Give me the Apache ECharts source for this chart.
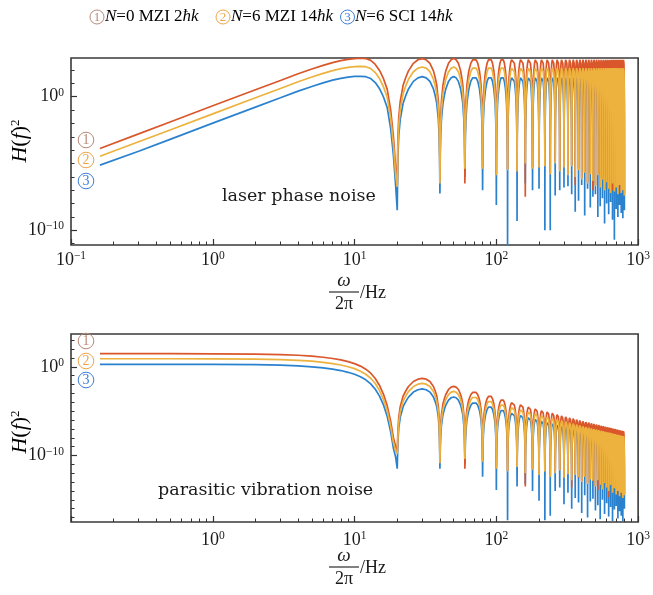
<!DOCTYPE html>
<html><head><meta charset="utf-8">
<script src="https://cdn.jsdelivr.net/npm/echarts@6/dist/echarts.min.js"></script>
<style>html,body{margin:0;padding:0;background:#fff}#c{width:653px;height:595px}</style>
</head><body><div id="c"></div>
<script>
// ---------------- data ----------------
// frequencies (Hz) of the smooth part below the first null
const freqLow = [0.16, 0.3, 0.5, 1, 2, 3, 4, 5, 6, 7, 8, 9, 10, 11, 12, 13, 14, 15, 16, 17, 18, 18.8, 19.5];
// null frequencies (Hz)
const nullFreq = [20,40,60,80,100,120,140,160,180,200,220,240,260,280,300,320,340,360,380,400,
                  420,440,460,480,500,520,540,560,580,600,620,640,660,680,700,720,740,760,780,800];
// lobe profile: position inside a lobe (fraction) and level relative to the lobe peak
const lobePos   = [0.01, 0.025, 0.05, 0.1, 0.15, 0.2, 0.3, 0.4, 0.5, 0.6, 0.7, 0.8, 0.85, 0.9, 0.95, 0.975, 0.99];
const lobeLevel = [1.0e-6, 4.0e-5, 6.3e-4, 1.0e-2, 4.0e-2, 1.2e-1, 4.4e-1, 8.1e-1, 1, 8.1e-1, 4.4e-1, 1.2e-1, 4.0e-2, 1.0e-2, 6.3e-4, 4.0e-5, 1.0e-6];

// ---- laser phase noise (top) ----
const topLowRed    = [1.35e-4, 1.66e-3, 1.29e-2, 2.09e-1, 3.31, 16.6, 52.5, 120, 224, 355, 501, 631, 724, 759, 724, 525, 263, 93.3, 22.4, 3.55, 8.91e-2, 1.0e-3, 5.0e-6];
const topLowOrange = [3.55e-5, 4.27e-4, 3.24e-3, 5.25e-2, 0.832, 4.17, 13.2, 30.2, 56.2, 89.1, 126, 158, 178, 186, 178, 129, 64.6, 22.9, 5.5, 0.871, 2.19e-2, 2.51e-4, 1.26e-6];
const topLowBlue   = [7.59e-6, 8.32e-5, 6.46e-4, 1.05e-2, 0.166, 0.832, 2.63, 5.89, 11.0, 17.4, 24.0, 29.5, 33.1, 33.9, 31.6, 22.9, 11.5, 3.98, 0.955, 0.151, 3.8e-3, 3.98e-5, 2.0e-7];
const topPeakRed    = [7.2e2,7.2e2,7.2e2,7.2e2,7.2e2,7.2e2,7.2e2,7.2e2,7.2e2,7.2e2,7.2e2,7.2e2,7.2e2,7.2e2,7.2e2,7.2e2,7.2e2,7.2e2,7.2e2,7.2e2,
                       7.2e2,7.2e2,7.2e2,7.2e2,7.2e2,7.2e2,7.2e2,7.2e2,7.2e2,7.2e2,7.2e2,7.2e2,7.2e2,7.2e2,7.2e2,7.2e2,7.2e2,7.2e2,7.2e2];
const topPeakOrange = [1.7e2,1.7e2,1.7e2,1.7e2,1.7e2,1.7e2,1.7e2,1.7e2,1.7e2,1.7e2,1.7e2,1.7e2,1.7e2,1.7e2,1.7e2,1.7e2,1.7e2,1.7e2,1.7e2,1.7e2,
                       1.7e2,1.7e2,1.7e2,1.7e2,1.7e2,1.7e2,1.7e2,1.7e2,1.7e2,1.7e2,1.7e2,1.7e2,1.7e2,1.7e2,1.7e2,1.7e2,1.7e2,1.7e2,1.7e2];
const topPeakBlue   = [3.2e1,3.2e1,3.2e1,3.2e1,3.2e1,3.2e1,3.2e1,3.2e1,3.2e1,3.2e1,3.2e1,3.2e1,3.2e1,3.2e1,3.2e1,3.2e1,3.2e1,3.2e1,3.2e1,3.2e1,
                       3.2e1,3.2e1,3.2e1,3.2e1,3.2e1,3.2e1,3.2e1,3.2e1,3.2e1,3.2e1,3.2e1,3.2e1,3.2e1,3.2e1,3.2e1,3.2e1,3.2e1,3.2e1,3.2e1];
const topDipRed    = [2.5e-7,5.0e-7,3.2e-7,5.0e-6,1.6e-6,4.0e-6,3.2e-6,3.2e-8,5.0e-6,6.3e-6,7.9e-6,2.0e-6,1.3e-5,3.2e-6,6.3e-6,1.6e-6,7.9e-6,2.5e-7,4.0e-6,7.9e-7,
                      2.5e-6,4.0e-7,2.0e-6,1.0e-7,2.5e-7,1.6e-6,2.0e-7,7.9e-7,1.3e-7,5.0e-7,1.6e-7,7.9e-8,1.0e-7,1.0e-7,2.0e-7,6.3e-8,3.2e-7,7.9e-8,1.3e-7,5.0e-8];
const topDipOrange = [1.8e-7,3.2e-7,4.0e-6,4.0e-6,1.3e-6,3.2e-6,2.5e-6,1.0e-5,4.0e-6,5.0e-6,6.3e-6,1.6e-6,1.0e-5,2.5e-6,5.0e-6,1.3e-6,6.3e-6,1.0e-6,3.2e-6,6.3e-7,
                      2.0e-6,3.2e-7,1.6e-6,5.0e-7,2.0e-7,1.3e-6,1.6e-7,6.3e-7,1.0e-7,4.0e-7,1.3e-7,6.3e-8,3.2e-7,7.9e-8,1.6e-7,5.0e-8,2.5e-7,6.3e-8,1.0e-7,4.0e-8];
const topDipBlue   = [3.2e-9,5.6e-8,1.0e-6,1.0e-7,7.9e-9,3.2e-12,5.0e-10,3.2e-7,1.0e-7,1.3e-7,1.0e-10,1.0e-10,4.0e-8,1.0e-7,1.6e-7,2.0e-7,5.0e-8,2.5e-9,1.6e-8,2.5e-7,
                      1.3e-9,1.3e-7,5.0e-9,3.2e-8,5.0e-8,1.0e-9,6.3e-9,2.5e-8,3.2e-10,1.0e-8,1.6e-9,1.3e-8,6.3e-10,2.0e-11,4.0e-9,1.0e-9,7.9e-9,2.0e-9,7.9e-10,3.2e-9];

// ---- parasitic vibration noise (bottom) ----
const botLowRed    = [30.2, 30.2, 30.2, 29.5, 27.5, 24.0, 20.0, 15.8, 12.0, 8.7, 6.03, 3.8, 2.29, 1.2, 0.537, 0.19, 4.8e-2, 7.9e-3, 7.9e-4, 4.0e-5, 6.3e-7, 1.0e-8, 1.0e-9];
const botLowOrange = [8.1, 8.1, 8.1, 7.9, 7.4, 6.5, 5.4, 4.3, 3.2, 2.3, 1.6, 1.02, 0.62, 0.32, 0.145, 5.1e-2, 1.3e-2, 2.1e-3, 2.1e-4, 1.1e-5, 1.7e-7, 2.7e-9, 3.2e-10];
const botLowBlue   = [1.9, 1.9, 1.9, 1.86, 1.74, 1.51, 1.26, 1.0, 0.76, 0.55, 0.38, 0.24, 0.145, 7.6e-2, 3.4e-2, 1.2e-2, 3.0e-3, 5.0e-4, 5.0e-5, 2.5e-6, 4.0e-8, 6.3e-10, 6.3e-11];
const botPeakRed    = [5.0e-2,6.3e-3,1.6e-3,5.6e-4,2.2e-4,1.1e-4,6.3e-5,3.5e-5,2.2e-5,1.4e-5,1.0e-5,7.1e-6,5.0e-6,3.7e-6,2.8e-6,2.2e-6,1.8e-6,1.4e-6,1.1e-6,8.9e-7,
                       7.4e-7,6.3e-7,5.2e-7,4.5e-7,3.8e-7,3.3e-7,2.8e-7,2.5e-7,2.1e-7,1.9e-7,1.7e-7,1.5e-7,1.3e-7,1.2e-7,1.05e-7,9.3e-8,8.3e-8,7.6e-8,6.9e-8];
const botPeakOrange = [1.35e-2,1.7e-3,4.3e-4,1.5e-4,6.0e-5,3.0e-5,1.7e-5,9.5e-6,6.0e-6,3.8e-6,2.7e-6,1.9e-6,1.35e-6,1.0e-6,7.6e-7,6.0e-7,4.8e-7,3.8e-7,3.0e-7,2.4e-7,
                       2.0e-7,1.7e-7,1.4e-7,1.2e-7,1.03e-7,8.9e-8,7.6e-8,6.8e-8,5.7e-8,5.1e-8,4.6e-8,4.1e-8,3.5e-8,3.2e-8,2.8e-8,2.5e-8,2.2e-8,2.05e-8,1.86e-8];
const botPeakBlue   = [3.2e-3,4.0e-4,1.0e-4,3.5e-5,1.4e-5,7.0e-6,4.0e-6,2.2e-6,1.4e-6,8.9e-7,6.3e-7,4.5e-7,3.2e-7,2.3e-7,1.8e-7,1.4e-7,1.1e-7,8.9e-8,7.0e-8,5.6e-8,
                       4.7e-8,4.0e-8,3.3e-8,2.8e-8,2.4e-8,2.1e-8,1.8e-8,1.6e-8,1.3e-8,1.2e-8,1.1e-8,9.5e-9,8.2e-9,7.6e-9,6.6e-9,5.9e-9,5.3e-9,4.8e-9,4.4e-9];
const botDipRed    = [2.0e-10,1.6e-11,3.2e-12,2.5e-11,4.0e-12,2.0e-12,6.3e-12,3.2e-14,3.2e-12,7.9e-13,2.0e-12,5.0e-13,1.3e-12,2.5e-12,4.0e-13,1.0e-12,2.5e-14,7.9e-13,3.2e-13,1.3e-13,
                      5.0e-13,7.9e-14,2.5e-13,1.3e-13,4.0e-14,1.3e-14,6.3e-14,2.0e-14,1.0e-13,3.2e-14,2.0e-15,5.0e-14,7.9e-15,2.5e-14,5.0e-15,1.3e-14,3.2e-15,7.9e-15,2.0e-15,4.0e-15];
const botDipOrange = [1.6e-10,1.3e-11,4.0e-11,2.0e-11,3.2e-12,1.6e-12,5.0e-12,1.0e-12,2.5e-12,6.3e-13,1.6e-12,4.0e-13,1.0e-12,2.0e-12,3.2e-13,7.9e-13,1.6e-13,6.3e-13,2.5e-13,1.0e-13,
                      4.0e-13,6.3e-14,2.0e-13,1.0e-13,3.2e-14,1.6e-13,5.0e-14,1.6e-14,7.9e-14,2.5e-14,1.0e-14,4.0e-14,6.3e-15,2.0e-14,4.0e-15,1.0e-14,2.5e-15,6.3e-15,1.6e-15,3.2e-15];
const botDipBlue   = [3.2e-12,3.2e-12,1.0e-11,4.0e-13,1.3e-14,5.0e-18,3.2e-14,6.3e-14,1.0e-14,7.9e-16,5.0e-18,1.6e-17,1.0e-14,2.5e-14,3.2e-16,6.3e-15,1.0e-16,1.6e-15,5.0e-16,3.2e-17,
                      3.2e-15,1.0e-17,6.3e-16,1.3e-15,6.3e-17,2.5e-16,6.3e-18,1.0e-15,2.5e-17,4.0e-16,1.3e-17,1.6e-16,4.0e-18,7.9e-17,2.0e-16,7.9e-18,5.0e-17,1.6e-17,4.0e-18,1.0e-16];

// tick labels (powers of ten)
const xTickExpTop = [-1, 0, 1, 2, 3];
const xTickExpBot = [0, 1, 2, 3];
const yTickExpTop = [0, -10];
const yTickExpBot = [0, -10];
const seriesNames = ['N=0 MZI 2ħk', 'N=6 MZI 14ħk', 'N=6 SCI 14ħk'];

// ---------------- build ----------------
const FONT = 'Liberation Serif';
const TXT = '#1a1a1a';
const C_RED = '#d9572a', C_ORG = '#edb23e', C_BLU = '#2a82cf';
const lg = Math.log10;

function buildLine(lowV, peaks, dips) {
  const pts = [];
  for (let i = 0; i < freqLow.length; i++) pts.push([lg(freqLow[i]), lg(lowV[i])]);
  for (let k = 0; k < nullFreq.length; k++) {
    pts.push([lg(nullFreq[k]), lg(dips[k])]);
    if (k < peaks.length) {
      const a = nullFreq[k], b = nullFreq[k + 1];
      for (let j = 0; j < lobePos.length; j++) {
        const u = lobePos[j];
        let v = peaks[k] * lobeLevel[j];
        const floor = u < 0.5 ? dips[k] : dips[k + 1];
        if (v < floor) v = floor;
        pts.push([lg(a + u * (b - a)), lg(v)]);
      }
    }
  }
  return pts;
}

function expLabel(v) {
  const e = Math.round(v);
  return '{b|10}{s|' + (e < 0 ? '\u2212' + (-e) : String(e)) + '}';
}
const labelRich = {
  b: { fontSize: 18, fontFamily: FONT, color: TXT, lineHeight: 20 },
  s: { fontSize: 11.5, fontFamily: FONT, color: TXT, lineHeight: 9, verticalAlign: 'top' }
};
const xMinorPos = [];
[-1, 0, 1, 2].forEach(d => { for (let m = 2; m <= 9; m++) xMinorPos.push(d + lg(m)); });

function intRange(a, b) { const r = []; for (let i = a; i <= b; i++) r.push(i); return r; }

const noLine = { show: false, onZero: false };
function xMajor(gi, labels, margin) {
  return { type: 'value', gridIndex: gi, min: -1, max: 3, position: 'bottom',
    axisLine: noLine, splitLine: { show: false },
    axisTick: { show: true, inside: true, length: 6, customValues: [-1, 0, 1, 2, 3], lineStyle: { color: '#333', width: 1.2 } },
    axisLabel: { show: true, customValues: labels, formatter: expLabel, rich: labelRich, margin: margin } };
}
function xMinor(gi) {
  return { type: 'value', gridIndex: gi, min: -1, max: 3, position: 'bottom',
    axisLine: noLine, splitLine: { show: false }, axisLabel: { show: false },
    axisTick: { show: true, inside: true, length: 3.5, customValues: xMinorPos, lineStyle: { color: '#333', width: 1 } } };
}
function yMajor(gi, mn, mx, labels) {
  return { type: 'value', gridIndex: gi, min: mn, max: mx, position: 'left',
    axisLine: noLine, splitLine: { show: false },
    axisTick: { show: true, inside: true, length: 6, customValues: labels, lineStyle: { color: '#333', width: 1.2 } },
    axisLabel: { show: true, customValues: labels, formatter: expLabel, rich: labelRich, margin: 7 } };
}
function yMinor(gi, mn, mx, ticks) {
  return { type: 'value', gridIndex: gi, min: mn, max: mx, position: 'left',
    axisLine: noLine, splitLine: { show: false }, axisLabel: { show: false },
    axisTick: { show: true, inside: true, length: 3.5, customValues: ticks, lineStyle: { color: '#333', width: 1 } } };
}
function line(name, data, color, xi, yi, z) {
  return { name, type: 'line', xAxisIndex: xi, yAxisIndex: yi, data, showSymbol: false, symbol: 'none',
    lineStyle: { color, width: 1.7 }, itemStyle: { color }, animation: false, silent: true, clip: true, z };
}

const TOP_MIN = -11.1, TOP_MAX = 2.9, BOT_MIN = -17.5, BOT_MAX = 3.7;

// graphics: legend, markers, titles
const g = [];
function circ(cx, cy, r, color, digit, fs) {
  g.push({ type: 'circle', shape: { cx, cy, r }, style: { fill: 'none', stroke: color, lineWidth: 1 }, z: 100 });
  g.push({ type: 'text', x: cx, y: cy + 0.5, style: { text: digit, fill: color, font: fs + 'px ' + FONT, textAlign: 'center', textVerticalAlign: 'middle' }, z: 100 });
}
const legRich = {
  i: { fontFamily: FONT, fontStyle: 'italic', fontSize: 17, color: TXT },
  n: { fontFamily: FONT, fontSize: 17, color: TXT }
};
function legText(x, name) {
  const m = name.match(/^N(=\d+ \w+ \d+)ħk$/);
  g.push({ type: 'text', x, y: 17, style: { text: '{i|N}{n|' + m[1] + '}{i|ħk}', rich: legRich, textVerticalAlign: 'middle', textAlign: 'left' }, z: 100 });
}
const markCol = ['#b98a7a', '#eea54a', '#3f7fd6'];
[[97, 105], [223, 231], [347.5, 355]].forEach((p, i) => { circ(p[0], 17, 7, markCol[i], String(i + 1), 13); legText(p[1], seriesNames[i]); });
[140, 160, 181].forEach((y, i) => circ(86, y, 7.8, markCol[i], String(i + 1), 14));
[341, 361, 380].forEach((y, i) => circ(86, y, 7.8, markCol[i], String(i + 1), 14));

const hRich = {
  i: { fontFamily: FONT, fontStyle: 'italic', fontSize: 22, color: TXT },
  n: { fontFamily: FONT, fontSize: 22, color: TXT },
  s: { fontFamily: FONT, fontSize: 13, color: TXT, lineHeight: 10, verticalAlign: 'top' }
};
[141, 432].forEach(y => g.push({ type: 'text', x: 20, y, rotation: Math.PI / 2,
  style: { text: '{i|H}{n|(}{i|f}{n|)}{s|2}', rich: hRich, textAlign: 'center', textVerticalAlign: 'middle' }, z: 100 }));

function fracTitle(yw, yl, y2, yhz) {
  g.push({ type: 'text', x: 344, y: yw, style: { text: 'ω', font: 'italic 19px ' + FONT, fill: TXT, textAlign: 'center', textVerticalAlign: 'middle' } });
  g.push({ type: 'line', shape: { x1: 329, y1: yl, x2: 359, y2: yl }, style: { stroke: TXT, lineWidth: 1.1 } });
  g.push({ type: 'text', x: 344, y: y2, style: { text: '2π', font: '18px ' + FONT, fill: TXT, textAlign: 'center', textVerticalAlign: 'middle' } });
  g.push({ type: 'text', x: 360, y: yhz, style: { text: '/Hz', font: '18px ' + FONT, fill: TXT, textAlign: 'left', textVerticalAlign: 'middle' } });
}
fracTitle(281, 292, 304, 293);
fracTitle(556, 567, 579, 568);

g.push({ type: 'text', x: 222, y: 196, style: { text: 'laser phase noise', font: '17.5px DejaVu Serif', fill: TXT, textVerticalAlign: 'middle' } });
g.push({ type: 'text', x: 158, y: 490, style: { text: 'parasitic vibration noise', font: '17.5px DejaVu Serif', fill: TXT, textVerticalAlign: 'middle' } });

const option = {
  animation: false,
  backgroundColor: '#fff',
  grid: [
    { left: 71, right: 12, top: 58, height: 187, show: true, borderColor: '#3a3a3a', borderWidth: 1.6, backgroundColor: 'transparent' },
    { left: 71, right: 12, top: 334, height: 188, show: true, borderColor: '#3a3a3a', borderWidth: 1.6, backgroundColor: 'transparent' }
  ],
  xAxis: [xMajor(0, xTickExpTop, 5), xMinor(0), xMajor(1, xTickExpBot, 8), xMinor(1)],
  yAxis: [yMajor(0, TOP_MIN, TOP_MAX, yTickExpTop), yMinor(0, TOP_MIN, TOP_MAX, intRange(-11, 2)),
          yMajor(1, BOT_MIN, BOT_MAX, yTickExpBot), yMinor(1, BOT_MIN, BOT_MAX, intRange(-17, 3))],
  series: [
    line(seriesNames[2], buildLine(topLowBlue, topPeakBlue, topDipBlue), C_BLU, 0, 0, 2),
    line(seriesNames[0], buildLine(topLowRed, topPeakRed, topDipRed), C_RED, 0, 0, 3),
    line(seriesNames[1], buildLine(topLowOrange, topPeakOrange, topDipOrange), C_ORG, 0, 0, 4),
    line(seriesNames[2], buildLine(botLowBlue, botPeakBlue, botDipBlue), C_BLU, 2, 2, 2),
    line(seriesNames[0], buildLine(botLowRed, botPeakRed, botDipRed), C_RED, 2, 2, 3),
    line(seriesNames[1], buildLine(botLowOrange, botPeakOrange, botDipOrange), C_ORG, 2, 2, 4)
  ],
  graphic: g
};
const chart = echarts.init(document.getElementById('c'), null, { renderer: 'canvas' });
chart.setOption(option);
</script></body></html>
